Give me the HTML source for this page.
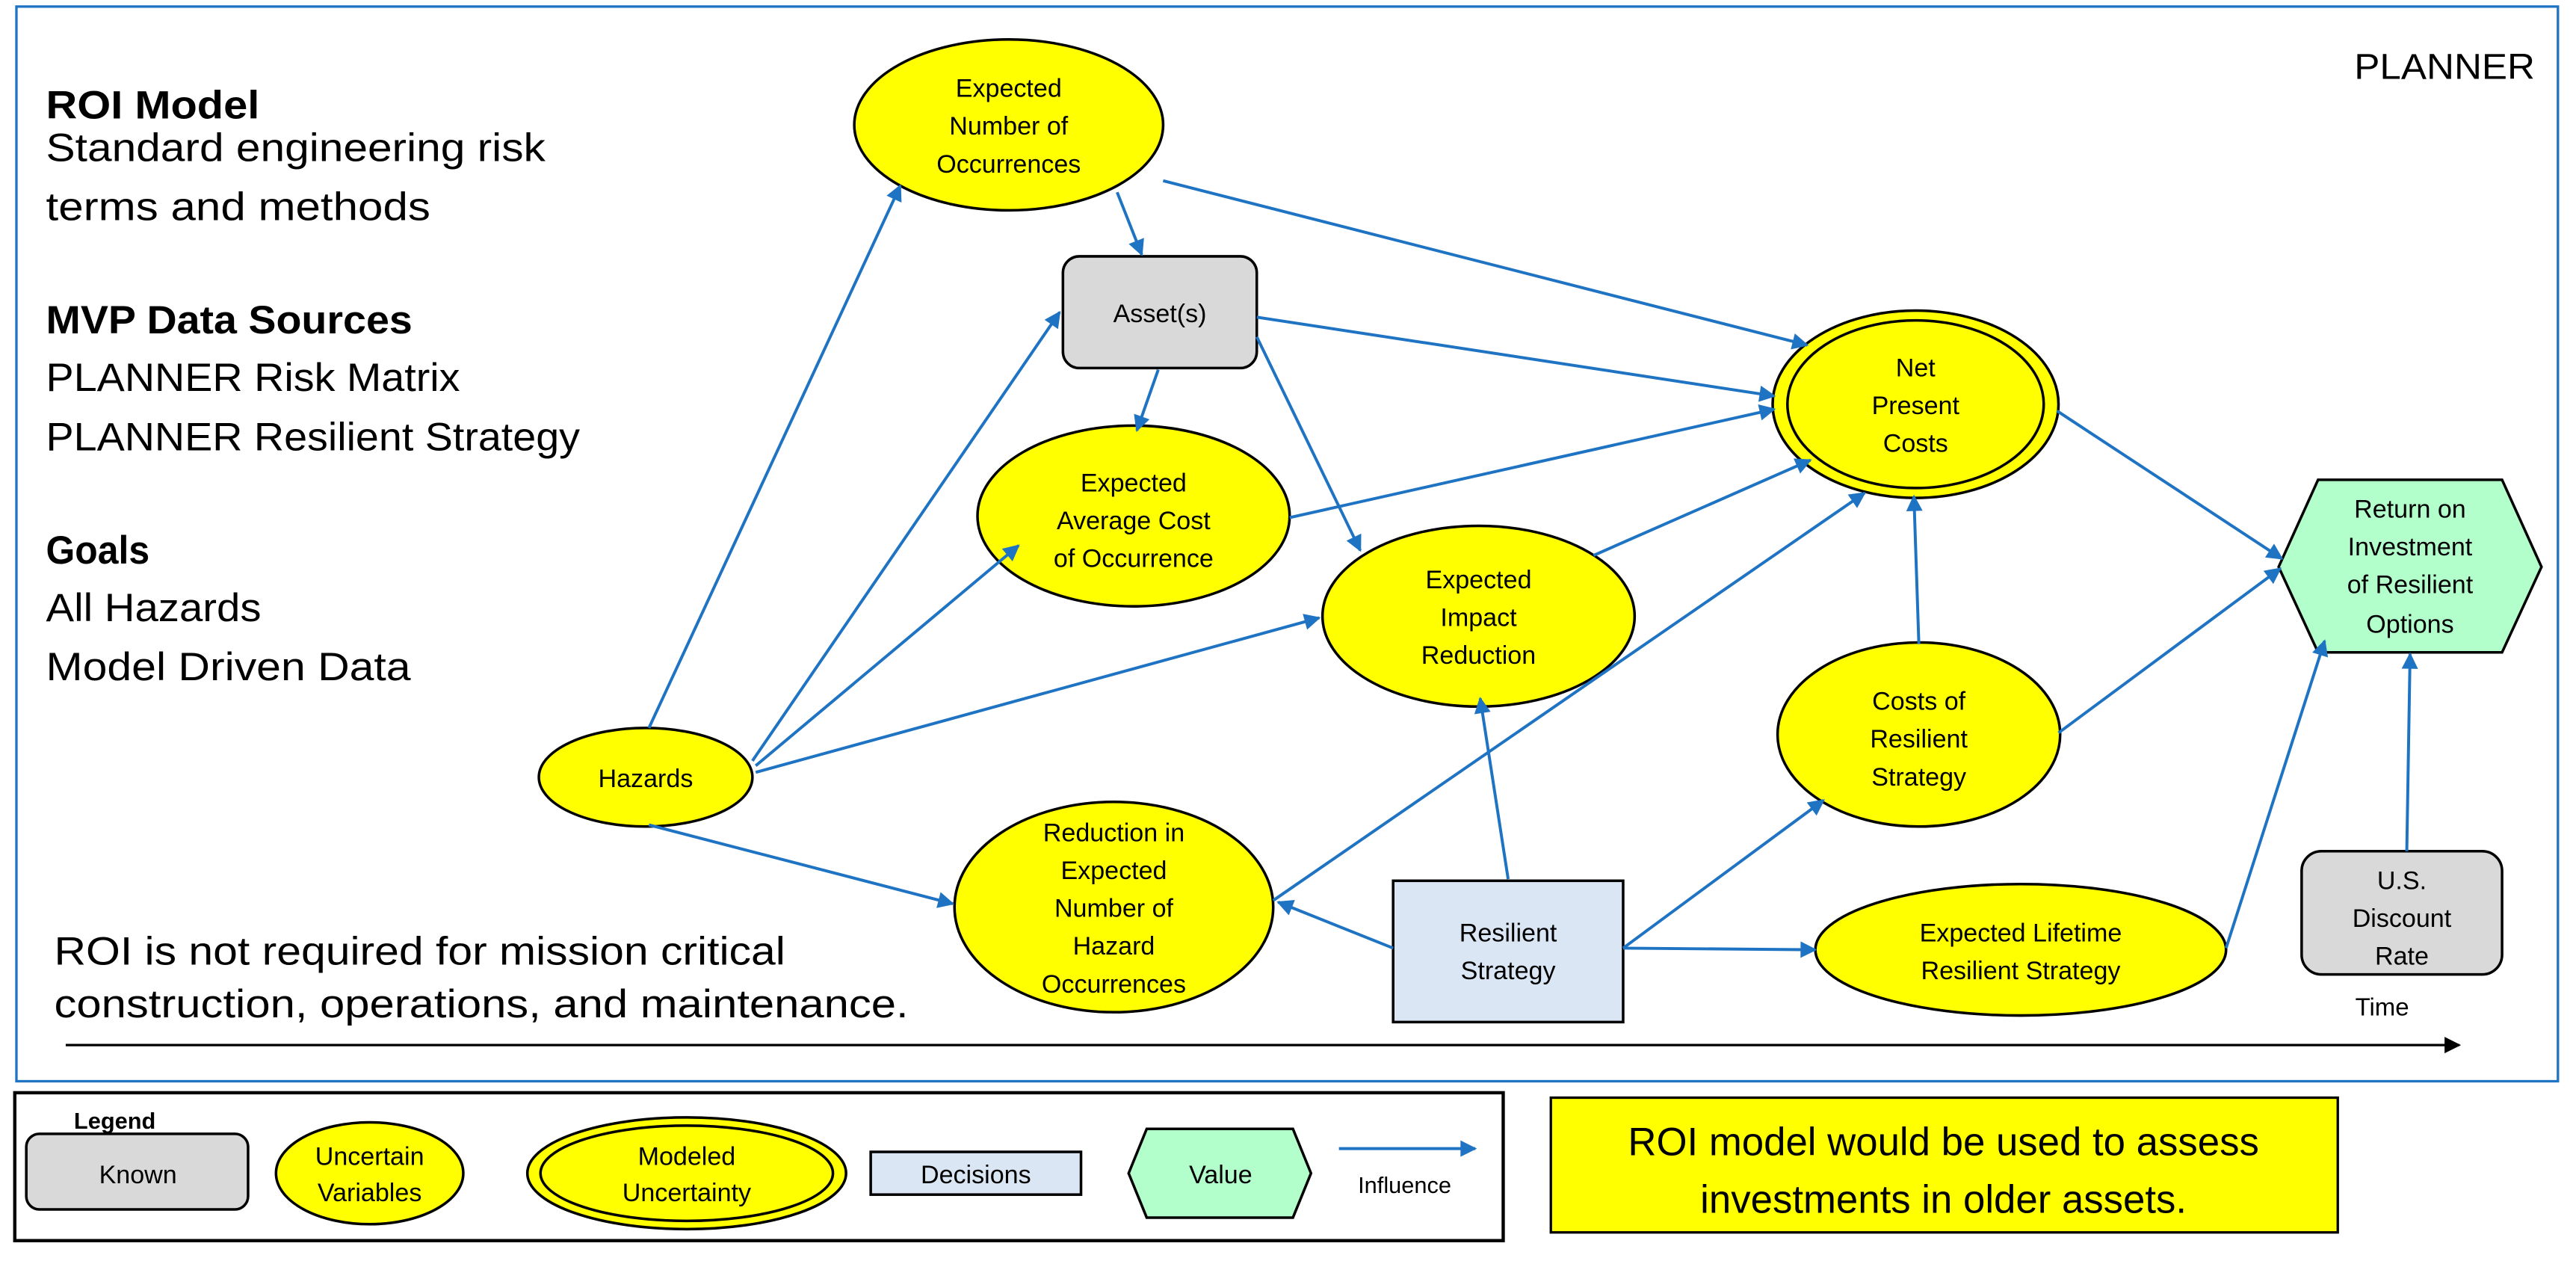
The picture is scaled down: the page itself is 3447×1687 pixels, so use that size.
<!DOCTYPE html>
<html><head><meta charset="utf-8"><style>
html,body{margin:0;padding:0;background:#fff;}
svg{display:block;}
text{font-family:"Liberation Sans",sans-serif;fill:#000;}
</style></head><body>
<svg width="3447" height="1687" viewBox="0 0 1568 767.4" preserveAspectRatio="none" xmlns="http://www.w3.org/2000/svg">
<defs>
<marker id="a" viewBox="0 0 10 10" refX="9" refY="5" markerWidth="11" markerHeight="10" orient="auto" markerUnits="userSpaceOnUse"><path d="M0,0 L10,5 L0,10 z" fill="#1f73c3"/></marker>
<marker id="b" viewBox="0 0 10 10" refX="9" refY="5" markerWidth="11" markerHeight="10" orient="auto" markerUnits="userSpaceOnUse"><path d="M0,0 L10,5 L0,10 z" fill="#000"/></marker>
</defs>
<rect x="10" y="4" width="1547" height="654" fill="#fff" stroke="#1f73c3" stroke-width="1.5"/>

<g font-size="24">
<text x="28" y="72" font-weight="bold" textLength="130" lengthAdjust="spacingAndGlyphs">ROI Model</text>
<text x="28" y="98" textLength="304" lengthAdjust="spacingAndGlyphs">Standard engineering risk</text>
<text x="28" y="134" textLength="234" lengthAdjust="spacingAndGlyphs">terms and methods</text>
<text x="28" y="203" font-weight="bold" textLength="223" lengthAdjust="spacingAndGlyphs">MVP Data Sources</text>
<text x="28" y="238" textLength="252" lengthAdjust="spacingAndGlyphs">PLANNER Risk Matrix</text>
<text x="28" y="274" textLength="325" lengthAdjust="spacingAndGlyphs">PLANNER Resilient Strategy</text>
<text x="28" y="343" font-weight="bold" textLength="63" lengthAdjust="spacingAndGlyphs">Goals</text>
<text x="28" y="378" textLength="131" lengthAdjust="spacingAndGlyphs">All Hazards</text>
<text x="28" y="414" textLength="222" lengthAdjust="spacingAndGlyphs">Model Driven Data</text>
<text x="33" y="587" textLength="445" lengthAdjust="spacingAndGlyphs">ROI is not required for mission critical</text>
<text x="33" y="619" textLength="520" lengthAdjust="spacingAndGlyphs">construction, operations, and maintenance.</text>
</g>
<text x="1433" y="48" font-size="22" textLength="110" lengthAdjust="spacingAndGlyphs">PLANNER</text>
<text x="1450" y="618" font-size="15" text-anchor="middle">Time</text>
<line x1="40" y1="636" x2="1497" y2="636" stroke="#000" stroke-width="1.5" marker-end="url(#b)"/>

<g stroke="#000" stroke-width="1.6">
<ellipse cx="614" cy="76" rx="94" ry="52" fill="#ffff00"/>
<rect x="647" y="156" width="118" height="68" rx="10" fill="#d9d9d9"/>
<ellipse cx="1166" cy="246" rx="87" ry="57" fill="#ffff00"/>
<ellipse cx="1166" cy="246" rx="78" ry="51" fill="#ffff00"/>
<ellipse cx="690" cy="314" rx="95" ry="55" fill="#ffff00"/>
<ellipse cx="900" cy="375" rx="95" ry="55" fill="#ffff00"/>
<polygon points="1387,345 1411,292 1523,292 1547,345 1523,397 1411,397" fill="#b3ffcc"/>
<ellipse cx="1168" cy="447" rx="86" ry="56" fill="#ffff00"/>
<ellipse cx="393" cy="473" rx="65" ry="30" fill="#ffff00"/>
<ellipse cx="678" cy="552" rx="97" ry="64" fill="#ffff00"/>
<rect x="848" y="536" width="140" height="86" fill="#dae6f4"/>
<ellipse cx="1230" cy="578" rx="125" ry="40" fill="#ffff00"/>
<rect x="1401" y="518" width="122" height="75" rx="12" fill="#d9d9d9"/>
</g>

<g stroke="#1f73c3" stroke-width="1.8" fill="none" marker-end="url(#a)">
<line x1="395" y1="443" x2="548" y2="113"/>
<line x1="458" y1="463" x2="645" y2="190"/>
<line x1="460" y1="466" x2="620" y2="332"/>
<line x1="460" y1="470" x2="803" y2="376"/>
<line x1="395" y1="502" x2="580" y2="550"/>
<line x1="680" y1="117" x2="695" y2="155"/>
<line x1="708" y1="110" x2="1100" y2="210"/>
<line x1="705" y1="225" x2="692" y2="262"/>
<line x1="765" y1="193" x2="1080" y2="241"/>
<line x1="765" y1="205" x2="828" y2="335"/>
<line x1="785" y1="315" x2="1080" y2="249"/>
<line x1="970" y1="338" x2="1102" y2="280"/>
<line x1="775" y1="548" x2="1135" y2="300"/>
<line x1="918" y1="535" x2="901" y2="425"/>
<line x1="848" y1="577" x2="778" y2="549"/>
<line x1="988" y1="577" x2="1110" y2="487"/>
<line x1="988" y1="577" x2="1105" y2="578"/>
<line x1="1168" y1="392" x2="1165" y2="302"/>
<line x1="1252" y1="250" x2="1389" y2="340"/>
<line x1="1253" y1="446" x2="1388" y2="346"/>
<line x1="1355" y1="577" x2="1415" y2="390"/>
<line x1="1465" y1="518" x2="1467" y2="398"/>
</g>

<g font-size="15.5" text-anchor="middle">
<text x="614" y="59">Expected</text><text x="614" y="82">Number of</text><text x="614" y="105">Occurrences</text>
<text x="706" y="196">Asset(s)</text>
<text x="1166" y="229">Net</text><text x="1166" y="252">Present</text><text x="1166" y="275">Costs</text>
<text x="690" y="299">Expected</text><text x="690" y="322">Average Cost</text><text x="690" y="345">of Occurrence</text>
<text x="900" y="358">Expected</text><text x="900" y="381">Impact</text><text x="900" y="404">Reduction</text>
<text x="1467" y="315">Return on</text><text x="1467" y="338">Investment</text><text x="1467" y="361">of Resilient</text><text x="1467" y="385">Options</text>
<text x="1168" y="432">Costs of</text><text x="1168" y="455">Resilient</text><text x="1168" y="478">Strategy</text>
<text x="393" y="479">Hazards</text>
<text x="678" y="512">Reduction in</text><text x="678" y="535">Expected</text><text x="678" y="558">Number of</text><text x="678" y="581">Hazard</text><text x="678" y="604">Occurrences</text>
<text x="918" y="573">Resilient</text><text x="918" y="596">Strategy</text>
<text x="1230" y="573">Expected Lifetime</text><text x="1230" y="596">Resilient Strategy</text>
<text x="1462" y="541">U.S.</text><text x="1462" y="564">Discount</text><text x="1462" y="587">Rate</text>
</g>

<rect x="9" y="665" width="906" height="90" fill="#fff" stroke="#000" stroke-width="2"/>
<text x="45" y="687" font-size="14" font-weight="bold">Legend</text>
<g stroke="#000" stroke-width="1.6">
<rect x="16" y="690" width="135" height="46" rx="8" fill="#d9d9d9"/>
<ellipse cx="225" cy="714" rx="57" ry="31" fill="#ffff00"/>
<ellipse cx="418" cy="714" rx="97" ry="34" fill="#ffff00"/>
<ellipse cx="418" cy="714" rx="89" ry="29" fill="#ffff00"/>
<rect x="530" y="701" width="128" height="26" fill="#dae6f4"/>
<polygon points="687,714 698,687 787,687 798,714 787,741 698,741" fill="#b3ffcc"/>
</g>
<line x1="815" y1="699" x2="898" y2="699" stroke="#1f73c3" stroke-width="1.8" marker-end="url(#a)"/>
<g font-size="15.5" text-anchor="middle">
<text x="84" y="720">Known</text>
<text x="225" y="709">Uncertain</text><text x="225" y="731">Variables</text>
<text x="418" y="709">Modeled</text><text x="418" y="731">Uncertainty</text>
<text x="594" y="720">Decisions</text>
<text x="743" y="720">Value</text>
<text x="855" y="726" font-size="14">Influence</text>
</g>

<rect x="944" y="668" width="479" height="82" fill="#ffff00" stroke="#000" stroke-width="1.5"/>
<g font-size="24" text-anchor="middle">
<text x="1183" y="703">ROI model would be used to assess</text>
<text x="1183" y="738">investments in older assets.</text>
</g>
</svg>
</body></html>
